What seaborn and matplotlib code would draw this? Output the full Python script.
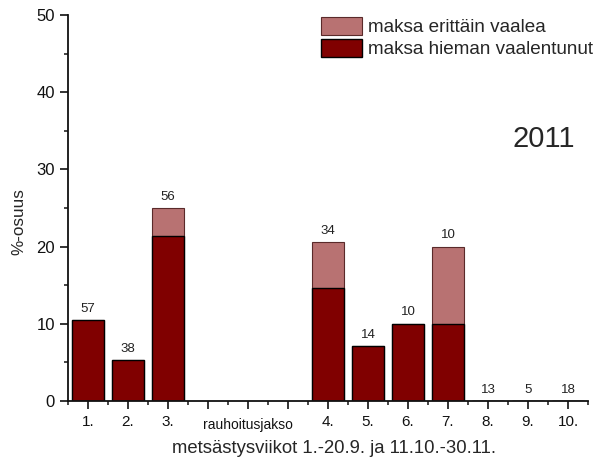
import matplotlib
matplotlib.use("Agg")
import matplotlib.pyplot as plt
from matplotlib.patches import Patch
from matplotlib.ticker import MultipleLocator
from matplotlib.transforms import ScaledTranslation
import numpy as np
import pandas as pd
import seaborn as sns

# Slots along the x axis: hunting weeks with the closed season in between
slots = ["1.", "2.", "3.", "gap_a", "rauhoitusjakso", "gap_b",
         "4.", "5.", "6.", "7.", "8.", "9.", "10."]
tick_labels = ["1.", "2.", "3.", "", "rauhoitusjakso", "",
               "4.", "5.", "6.", "7.", "8.", "9.", "10."]

weeks = ["1.", "2.", "3.", "4.", "5.", "6.", "7.", "8.", "9.", "10."]
sample_n = [57, 38, 56, 34, 14, 10, 10, 13, 5, 18]
slightly_pale = [10.5, 5.3, 21.4, 14.7, 7.1, 10.0, 10.0, 0.0, 0.0, 0.0]
very_pale = [0.0, 0.0, 3.6, 5.9, 0.0, 0.0, 10.0, 0.0, 0.0, 0.0]

label_very = "maksa erittäin vaalea"
label_slight = "maksa hieman vaalentunut"
year_text = "2011"
x_title = "metsästysviikot 1.-20.9. ja 11.10.-30.11."
y_title = "%-osuus"

dark_col = "#800000"
pale_col = "#b87272"

df = pd.DataFrame({
    "week": weeks,
    "n": sample_n,
    "slight": slightly_pale,
    "very": very_pale,
})
df["total"] = df["slight"] + df["very"]

sns.set_style("ticks")
plt.rcParams["font.family"] = ["Liberation Sans", "DejaVu Sans"]

fig = plt.figure(figsize=(5.96, 4.62), dpi=100)
ax = fig.add_axes([68 / 596, 1 - 401 / 462, (588 - 68) / 596, (401 - 15) / 462])

sns.barplot(data=df, x="week", y="total", order=slots, color=pale_col,
            saturation=1, width=0.8, edgecolor="#5a2a2a", linewidth=0.8, ax=ax)
sns.barplot(data=df, x="week", y="slight", order=slots, color=dark_col,
            saturation=1, width=0.8, edgecolor="black", linewidth=1.0, ax=ax)

# sample size above each bar
for w, n, t in zip(df["week"], df["n"], df["total"]):
    xi = slots.index(w)
    ax.text(xi, t + 0.7, str(n), ha="center", va="bottom", fontsize=9.5,
            color="#222222")

ax.set_xlim(-0.5, 12.5)
ax.set_ylim(0, 50)
ax.set_xticks(range(len(slots)))
ax.set_xticklabels(tick_labels, fontsize=11)
ax.xaxis.set_minor_locator(MultipleLocator(1, offset=0.5))
ax.yaxis.set_major_locator(MultipleLocator(10))
ax.yaxis.set_minor_locator(MultipleLocator(5))
ax.tick_params(axis="both", which="major", direction="out", length=6,
               width=1.2, colors="#111111")
ax.tick_params(axis="y", which="major", labelsize=12)
ax.tick_params(axis="x", which="major", labelsize=11, pad=4)
ax.tick_params(axis="both", which="minor", direction="out", length=3, width=1.2)
for lbl in ax.get_xticklabels():
    if lbl.get_text() == "rauhoitusjakso":
        lbl.set_fontsize(10)
        lbl.set_transform(lbl.get_transform()
                          + ScaledTranslation(0, -3 / 100, fig.dpi_scale_trans))

for s in ["top", "right"]:
    ax.spines[s].set_visible(False)
for s in ["left", "bottom"]:
    ax.spines[s].set_linewidth(1.3)
    ax.spines[s].set_color("#111111")

ax.set_xlabel(x_title, fontsize=13.3)
ax.xaxis.set_label_coords(0.5125, -0.1)
ax.set_ylabel(y_title, fontsize=12.3)
ax.yaxis.set_label_coords(-0.08, 0.465)

ax.text(0.975, 0.68, year_text, transform=ax.transAxes, ha="right",
        va="center", fontsize=21)

handles = [Patch(facecolor=pale_col, edgecolor="#5a2a2a", linewidth=0.8),
           Patch(facecolor=dark_col, edgecolor="black", linewidth=1.0)]
fig.legend(handles, [label_very, label_slight], loc="upper right",
           bbox_to_anchor=(593 / 596, 1 - 17 / 462), frameon=False,
           fontsize=13.6, handlelength=2.2, handleheight=1.06,
           labelspacing=0.15, handletextpad=0.3, borderaxespad=0,
           borderpad=0)

fig.savefig("out.png", dpi=100)
